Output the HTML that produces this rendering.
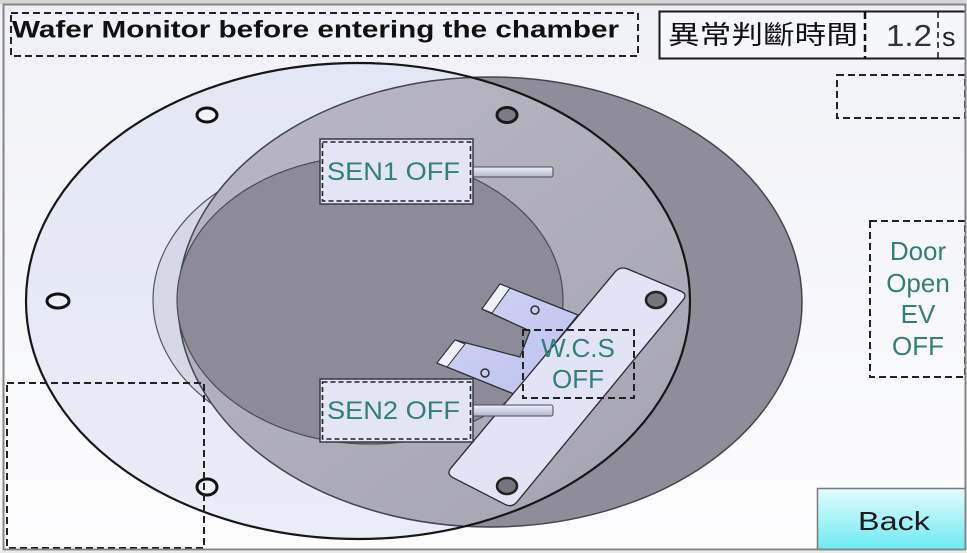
<!DOCTYPE html>
<html><head><meta charset="utf-8">
<style>
html,body{margin:0;padding:0;background:#fff;}
svg{display:block;}
</style></head><body>
<svg width="967" height="553" viewBox="0 0 967 553" xmlns="http://www.w3.org/2000/svg">
<defs>
<linearGradient id="bg" x1="0" y1="0" x2="0" y2="1">
<stop offset="0" stop-color="#f0f1f7"/><stop offset="1" stop-color="#fdfdfe"/>
</linearGradient>
<linearGradient id="aF" x1="0" y1="0" x2="0" y2="1"><stop offset="0" stop-color="#e3e6f4"/><stop offset="1" stop-color="#eaecf7"/></linearGradient>
<linearGradient id="mid" x1="0" y1="0" x2="1" y2="1"><stop offset="0" stop-color="#b9b8c4"/><stop offset="1" stop-color="#a3a2af"/></linearGradient>
<clipPath id="clipA"><ellipse cx="358" cy="301" rx="332" ry="238"/></clipPath>
<linearGradient id="back" x1="0" y1="0" x2="0" y2="1"><stop offset="0" stop-color="#e4fcfe"/><stop offset="1" stop-color="#6aebf2"/></linearGradient>
<linearGradient id="bar" x1="0" y1="0" x2="0" y2="1"><stop offset="0" stop-color="#eef0fa"/><stop offset="1" stop-color="#b2b6cc"/></linearGradient>
<linearGradient id="tab" x1="0" y1="0" x2="1" y2="1"><stop offset="0" stop-color="#d2d5f2"/><stop offset="1" stop-color="#bcc1f0"/></linearGradient>
</defs>
<rect width="967" height="553" fill="url(#bg)"/>
<rect x="0" y="0" width="967" height="4" fill="#d6d6d6"/>
<ellipse cx="358" cy="301" rx="332" ry="238" fill="url(#aF)"/>
<ellipse cx="357" cy="300" rx="204" ry="148" fill="#d6d8e8" stroke="#555560" stroke-width="1.2"/>
<ellipse cx="490" cy="302" rx="312" ry="225" fill="#8f8d99"/>
<ellipse cx="490" cy="302" rx="312" ry="225" fill="url(#mid)" clip-path="url(#clipA)"/>
<ellipse cx="490" cy="302" rx="312" ry="225" fill="none" stroke="#44444e" stroke-width="1.5"/>
<ellipse cx="370" cy="300" rx="193" ry="144" fill="#8d8b98" stroke="#4a4a55" stroke-width="1.2"/>
<ellipse cx="358" cy="301" rx="332" ry="238" fill="none" stroke="#161616" stroke-width="2.2"/>
<ellipse cx="207" cy="115" rx="10" ry="7" fill="#f2f3f9" stroke="#111" stroke-width="3"/>
<ellipse cx="507" cy="115" rx="10" ry="7.5" fill="#7d7b86" stroke="#1a1a1a" stroke-width="3"/>
<ellipse cx="58" cy="301" rx="11" ry="7" fill="#eceef8" stroke="#111" stroke-width="3"/>
<ellipse cx="207" cy="487" rx="10" ry="8" fill="#eef0f8" stroke="#111" stroke-width="3"/>
<polygon points="500,284 578,315 514,394 437,363 455,340 520,357 530,331 482,309" fill="url(#tab)" stroke="#2e2e38" stroke-width="1.3" stroke-linejoin="round"/>
<polygon points="482,309 500,284 510,288 492,313" fill="#f0f0fa" stroke="#2e2e38" stroke-width="1"/>
<polygon points="437,363 455,340 465,344 447,367" fill="#f0f0fa" stroke="#2e2e38" stroke-width="1"/>
<circle cx="535" cy="310" r="4" fill="#c8ccec" stroke="#2e2e38" stroke-width="1.5"/>
<circle cx="485" cy="373" r="4" fill="#c8ccec" stroke="#2e2e38" stroke-width="1.5"/>
<path d="M627.4,268.9 L680.6,291.1 Q688,294 682.9,300.2 L517.1,501.8 Q512,508 504.9,504.3 L453.1,477.7 Q446,474 451.1,467.8 L614.9,272.2 Q620,266 627.4,268.9 Z" fill="#e2e4f6" stroke="#2a2a33" stroke-width="1.3"/>
<ellipse cx="656" cy="300" rx="10" ry="8" fill="#76747e" stroke="#222" stroke-width="2.5"/>
<ellipse cx="507" cy="486" rx="10" ry="8" fill="#76747e" stroke="#222" stroke-width="2.5"/>
<rect x="470" y="167" width="83" height="10" rx="2" fill="url(#bar)" stroke="#4a4a55" stroke-width="1"/>
<rect x="470" y="405" width="83" height="11" rx="2" fill="url(#bar)" stroke="#4a4a55" stroke-width="1"/>
<rect x="320" y="139" width="153" height="65" fill="#e3e5f4" stroke="#3a3a44" stroke-width="1.5"/>
<rect x="322.5" y="142" width="148" height="59" fill="none" stroke="#222" stroke-width="1.6" stroke-dasharray="5 3"/>
<text x="327" y="180" font-family="Liberation Sans, sans-serif" font-size="25" fill="#317f76" textLength="133" lengthAdjust="spacingAndGlyphs">SEN1 OFF</text>
<rect x="320" y="379" width="153" height="63" fill="#e3e5f4" stroke="#3a3a44" stroke-width="1.5"/>
<rect x="322.5" y="382" width="148" height="57" fill="none" stroke="#222" stroke-width="1.6" stroke-dasharray="5 3"/>
<text x="327" y="419" font-family="Liberation Sans, sans-serif" font-size="25" fill="#317f76" textLength="133" lengthAdjust="spacingAndGlyphs">SEN2 OFF</text>
<rect x="523" y="330" width="111" height="68" fill="none" stroke="#222" stroke-width="2" stroke-dasharray="7 4"/>
<text x="578" y="357" font-family="Liberation Sans, sans-serif" font-size="26" fill="#317f76" text-anchor="middle">W.C.S</text>
<text x="578" y="388" font-family="Liberation Sans, sans-serif" font-size="26" fill="#317f76" text-anchor="middle">OFF</text>
<rect x="11" y="13" width="627" height="43" fill="none" stroke="#222" stroke-width="2" stroke-dasharray="7 4"/>
<text x="12" y="37.5" font-family="Liberation Sans, sans-serif" font-weight="bold" font-size="24" fill="#111" textLength="607" lengthAdjust="spacingAndGlyphs">Wafer Monitor before entering the chamber</text>
<rect x="659.5" y="11.5" width="306" height="47" fill="#f6f7fb" stroke="#1a1a1a" stroke-width="2"/>
<text x="668" y="44" font-family="Liberation Sans, 'Noto Sans CJK TC', sans-serif" font-size="26" fill="#111" textLength="190" lengthAdjust="spacingAndGlyphs">異常判斷時間</text>
<line x1="865" y1="12" x2="865" y2="58" stroke="#111" stroke-width="2.5" stroke-dasharray="7 4"/>
<text x="886" y="46" font-family="Liberation Sans, sans-serif" font-size="31" fill="#333" textLength="46" lengthAdjust="spacingAndGlyphs">1.2</text>
<line x1="938" y1="12" x2="938" y2="58" stroke="#111" stroke-width="1.5" stroke-dasharray="6 4"/>
<text x="942" y="46" font-family="Liberation Sans, sans-serif" font-size="27" fill="#222">s</text>
<rect x="837" y="75" width="128" height="43" fill="none" stroke="#222" stroke-width="2" stroke-dasharray="7 4"/>
<rect x="870" y="221" width="95" height="156" fill="none" stroke="#222" stroke-width="2" stroke-dasharray="7 4"/>
<g font-family="Liberation Sans, sans-serif" font-size="26" fill="#317f76" text-anchor="middle">
<text x="918" y="260">Door</text>
<text x="918" y="292">Open</text>
<text x="918" y="323">EV</text>
<text x="918" y="355">OFF</text>
</g>
<rect x="7" y="383" width="197" height="165" fill="none" stroke="#222" stroke-width="2" stroke-dasharray="7 4"/>
<rect x="817.5" y="488.5" width="148" height="61" fill="url(#back)" stroke="#7a7a7a" stroke-width="1.5"/>
<text x="894" y="530" font-family="Liberation Sans, sans-serif" font-size="26" fill="#1c1c1c" text-anchor="middle" textLength="72" lengthAdjust="spacingAndGlyphs">Back</text>
<rect x="3.5" y="4.5" width="962" height="545" fill="none" stroke="#858585" stroke-width="2"/>
<rect x="0" y="551" width="967" height="2" fill="#e8e8e8"/>
</svg>
</body></html>
